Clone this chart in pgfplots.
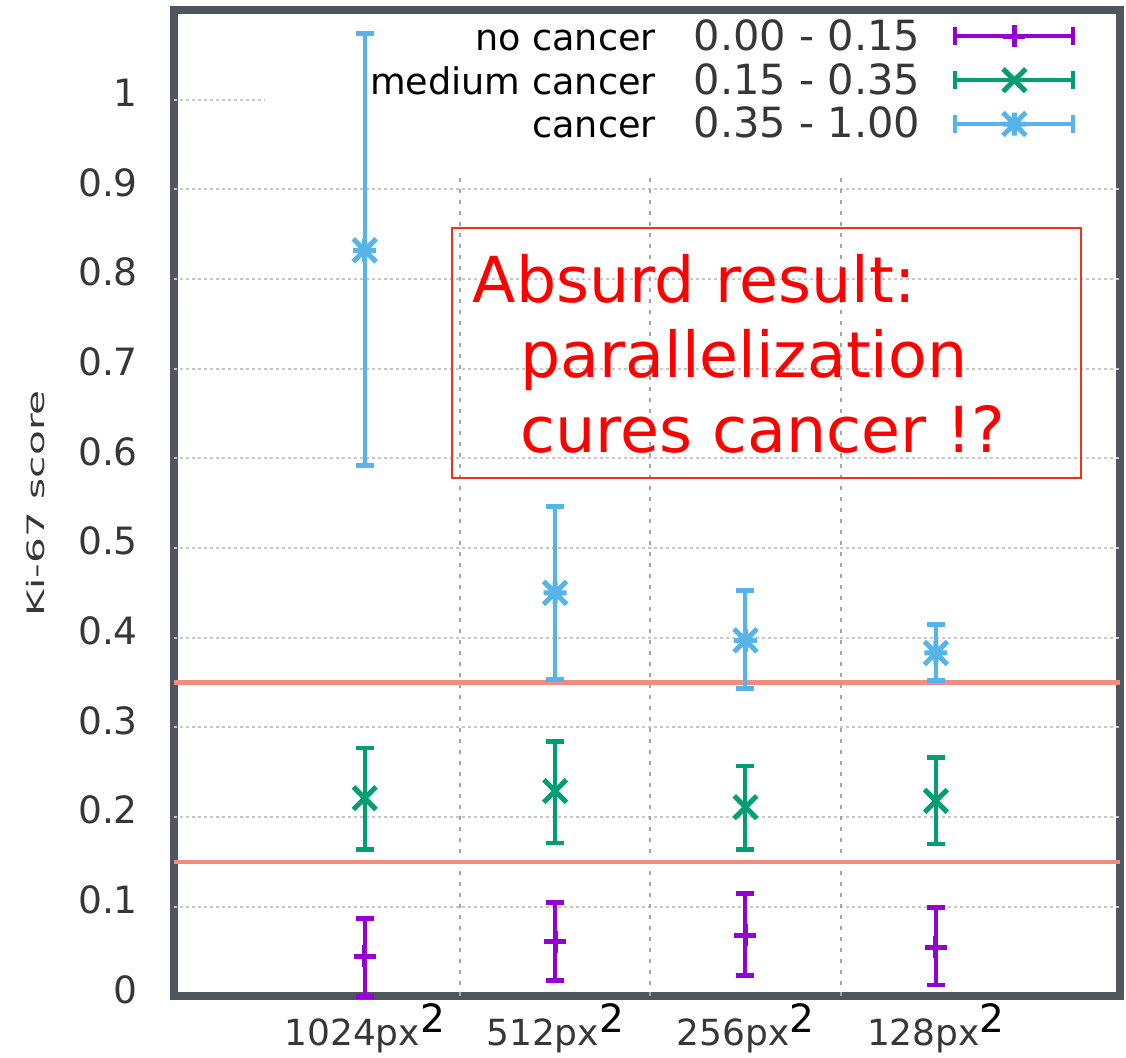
\documentclass[border=0pt]{standalone}
\usepackage{pgfplots}
\pgfplotsset{compat=1.18}
\usepackage{fontspec}
\setmainfont{DejaVu Sans}

\definecolor{cpurple}{RGB}{148,0,211}
\definecolor{cgreen}{RGB}{0,158,115}
\definecolor{cblue}{RGB}{86,180,233}
\definecolor{framegray}{RGB}{80,86,94}
\definecolor{tickgray}{RGB}{55,55,55}
\definecolor{gridgray}{RGB}{200,200,200}
\definecolor{vgridgray}{RGB}{165,165,165}
\definecolor{limitred}{RGB}{242,140,128}
\definecolor{boxred}{RGB}{238,50,30}

% gnuplot point type 3: + and x together
\pgfdeclareplotmark{gpstar}{%
  \pgfpathmoveto{\pgfqpoint{-\pgfplotmarksize}{0pt}}%
  \pgfpathlineto{\pgfqpoint{\pgfplotmarksize}{0pt}}%
  \pgfpathmoveto{\pgfqpoint{0pt}{-\pgfplotmarksize}}%
  \pgfpathlineto{\pgfqpoint{0pt}{\pgfplotmarksize}}%
  \pgfpathmoveto{\pgfqpoint{-\pgfplotmarksize}{-\pgfplotmarksize}}%
  \pgfpathlineto{\pgfqpoint{\pgfplotmarksize}{\pgfplotmarksize}}%
  \pgfpathmoveto{\pgfqpoint{-\pgfplotmarksize}{\pgfplotmarksize}}%
  \pgfpathlineto{\pgfqpoint{\pgfplotmarksize}{-\pgfplotmarksize}}%
  \pgfusepathqstroke}

\newcommand{\fs}[1]{\fontsize{#1}{#1}\selectfont}
\newcommand{\res}[1]{#1px\raisebox{6.5pt}{\color{black}\fs{19.5}2}}

\pgfplotsset{
  ebar/.style={
    only marks, color=#1,
    mark options={line width=2.5pt, solid},
    legend image code/.code={
      \draw[mark=none, line width=2pt] (0pt,0pt) -- (59pt,0pt);
      \draw[mark=none, line width=2pt] (0pt,-4.5pt) -- (0pt,4.5pt);
      \draw[mark=none, line width=2pt] (59pt,-4.5pt) -- (59pt,4.5pt);
      \draw plot coordinates {(29.5pt,0pt)};
    },
    error bars/y dir=both, error bars/y explicit,
    error bars/error bar style={line width=2pt, color=#1},
    error bars/error mark options={rotate=90, line width=2.4pt, mark size=4.5pt, color=#1},
  },
}

\begin{document}
\begin{tikzpicture}
  \useasboundingbox (-87.15pt,-30.8pt) rectangle (475.85pt,498.2pt);
  \begin{axis}[
      at={(0pt,0pt)}, anchor=south west,
      width=472.85pt, height=493.2pt, scale only axis,
      xmin=0, xmax=4.967, ymin=0, ymax=1.1,
      clip=false,
      axis line style={draw=framegray, line width=4pt},
      major tick length=0pt,
      xtick={1,2,3,4},
      xticklabels={\res{1024},\res{512},\res{256},\res{128}},
      xticklabel style={font=\fs{18}, color=tickgray, anchor=base, inner sep=0pt, yshift=-24.5pt},
      ytick={0,0.1,0.2,0.3,0.4,0.5,0.6,0.7,0.8,0.9,1},
      yticklabels={0,0.1,0.2,0.3,0.4,0.5,0.6,0.7,0.8,0.9,1},
      yticklabel style={font=\fs{18.8}, color=tickgray, anchor=east, inner sep=0pt, xshift=-18pt, yshift=3.5pt},
      legend plot pos=right,
      legend cell align=right,
      legend style={draw=none, fill=none, at={(axis cs:4.735,1.09)}, anchor=north east,
        inner sep=0pt, column sep=16.5pt, row sep=5pt, nodes={inner sep=0pt}},
    ]
    % grid, partly hidden behind the key area as in the original
    \pgfplotsinvokeforeach{0.1,0.2,0.3,0.4,0.5,0.6,0.7,0.8,0.9}{
      \draw[gridgray, line width=1pt, dash pattern=on 1.5pt off 1.5pt] (axis cs:0,#1) -- (axis cs:4.967,#1);
    }
    \draw[gridgray, line width=1pt, dash pattern=on 1.5pt off 1.5pt] (axis cs:0,1) -- (axis cs:0.475,1);
    \pgfplotsinvokeforeach{1.5,2.5,3.5}{
      \draw[vgridgray, line width=1pt, dash pattern=on 2pt off 3.5pt] (axis cs:#1,0) -- (axis cs:#1,0.92);
    }
    % class limits
    \draw[limitred, line width=2.2pt] (axis cs:0,0.15) -- (axis cs:4.967,0.15);
    \draw[limitred, line width=2.2pt] (axis cs:0,0.35) -- (axis cs:4.967,0.35);

    \addplot[ebar=cpurple, mark=+, mark size=5.5pt]
      table[x=x, y=y, y error plus=ep, y error minus=em, row sep=\\] {
        x y     ep    em    \\
        1 0.045 0.042 0.045 \\
        2 0.061 0.044 0.0435 \\
        3 0.068 0.047 0.045 \\
        4 0.055 0.044 0.0423 \\
      };
    \addlegendentry{\fs{18.3}\color{black}no cancer\hspace{19pt}{\color{tickgray}\fs{20.8}0.00 - 0.15}}
    \addplot[ebar=cgreen, mark=x, mark size=8pt]
      table[x=x, y=y, y error plus=ep, y error minus=em, row sep=\\] {
        x y     ep    em    \\
        1 0.221 0.056 0.057 \\
        2 0.229 0.055 0.058 \\
        3 0.211 0.046 0.047 \\
        4 0.218 0.048 0.048 \\
      };
    \addlegendentry{\fs{18.3}\color{black}medium cancer\hspace{19pt}{\color{tickgray}\fs{20.8}0.15 - 0.35}}
    \addplot[ebar=cblue, mark=gpstar, mark size=5.75pt]
      table[x=x, y=y, y error plus=ep, y error minus=em, row sep=\\] {
        x y     ep    em    \\
        1 0.832 0.242 0.240 \\
        2 0.450 0.096 0.097 \\
        3 0.397 0.056 0.054 \\
        4 0.383 0.032 0.031 \\
      };
    \addlegendentry{\fs{18.3}\color{black}cancer\hspace{19pt}{\color{tickgray}\fs{20.8}0.35 - 1.00}}

    \draw[boxred, line width=1pt] (axis cs:1.458,0.857) rectangle (axis cs:4.763,0.578);
    \node[anchor=base west, inner sep=0pt, text=red, font=\fs{31.7}] at (axis cs:1.566,0.774) {Absurd result:};
    \node[anchor=base west, inner sep=0pt, text=red, font=\fs{31.7}] at (axis cs:1.816,0.6905) {parallelization};
    \node[anchor=base west, inner sep=0pt, text=red, font=\fs{31.7}] at (axis cs:1.816,0.607) {cures cancer !?};
  \end{axis}
  % y axis title, stretched along its length as in the original
  \node[rotate=90, xscale=1.69, transform shape, anchor=center, inner sep=0pt, text=tickgray,
        font=\fontsize{12}{12}\selectfont] at (-69.6pt,246.6pt) {Ki-67 score};
\end{tikzpicture}
\end{document}
